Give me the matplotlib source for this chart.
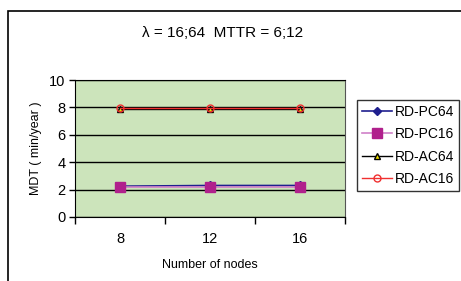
import numpy as np
import matplotlib.pyplot as plt
from matplotlib.patches import Rectangle

plt.rcParams['font.family'] = ['Liberation Sans', 'DejaVu Sans']

nodes = ["8", "12", "16"]
rd_pc64 = [2.25, 2.3, 2.3]
rd_pc16 = [2.2, 2.2, 2.2]
rd_ac64 = [7.9, 7.9, 7.9]
rd_ac16 = [7.95, 7.95, 7.95]

W, H = 461, 281
fig = plt.figure(figsize=(W / 100, H / 100), dpi=100)

# outer chart frame (cut off at right and bottom)
fig.patches.append(Rectangle((8 / W, -0.1), 1.2, 1 - 11 / H + 0.1,
                             transform=fig.transFigure, fill=False,
                             edgecolor='black', linewidth=1.2))

ax = fig.add_axes([75 / W, 1 - 217 / H, 270 / W, 137 / H])
ax.set_facecolor('#cce4bb')

x = np.arange(len(nodes))
ax.plot(x, rd_pc64, color='#1f1f8f', marker='D', markersize=4, linewidth=1.2, label='RD-PC64')
ax.plot(x, rd_pc16, color='#d080c8', marker='s', markersize=7, markerfacecolor='#b0208c',
        markeredgecolor='#b0208c', linewidth=1.2, label='RD-PC16')
ax.plot(x, rd_ac64, color='black', marker='^', markersize=5, markerfacecolor='#f0e000',
        markeredgecolor='black', linewidth=1.0, label='RD-AC64')
ax.plot(x, rd_ac16, color='#f03030', marker='o', markersize=5, markerfacecolor='none',
        markeredgecolor='#f03030', linewidth=1.0, label='RD-AC16')

ax.set_xlim(-0.5, 2.5)
ax.set_ylim(0, 10)
ax.set_yticks([0, 2, 4, 6, 8, 10])
ax.yaxis.grid(True, color='black', linewidth=1.0)
ax.set_axisbelow(True)
ax.set_xticks([-0.5, 0.5, 1.5, 2.5])
ax.set_xticklabels([])
ax.set_xticks(x, minor=True)
ax.set_xticklabels(nodes, minor=True, fontsize=10.5)
ax.tick_params(axis='x', which='minor', length=0, pad=11)
ax.tick_params(axis='x', which='major', length=5, width=1, direction='out')
ax.tick_params(axis='y', length=4, width=1, direction='out', labelsize=10.5, pad=3)
for s in ax.spines.values():
    s.set_color('#555555')
ax.spines['left'].set_color('black')
ax.spines['bottom'].set_color('black')
ax.spines['top'].set_color('black')

ax.set_ylabel('MDT ( min/year )', fontsize=9, labelpad=5)
ax.set_xlabel('Number of nodes', fontsize=9, labelpad=9)

fig.text(223 / W, 1 - 33 / H, 'λ = 16;64  MTTR = 6;12', ha='center', va='center', fontsize=11)

leg = fig.legend(loc='upper left', bbox_to_anchor=(357 / W, 1 - 100 / H),
                 fontsize=10, frameon=True, fancybox=False, edgecolor='black',
                 handlelength=2.2, borderpad=0.35, labelspacing=0.6,
                 handletextpad=0.2, borderaxespad=0)
leg.get_frame().set_linewidth(1.0)

fig.savefig('out.png', dpi=100)
